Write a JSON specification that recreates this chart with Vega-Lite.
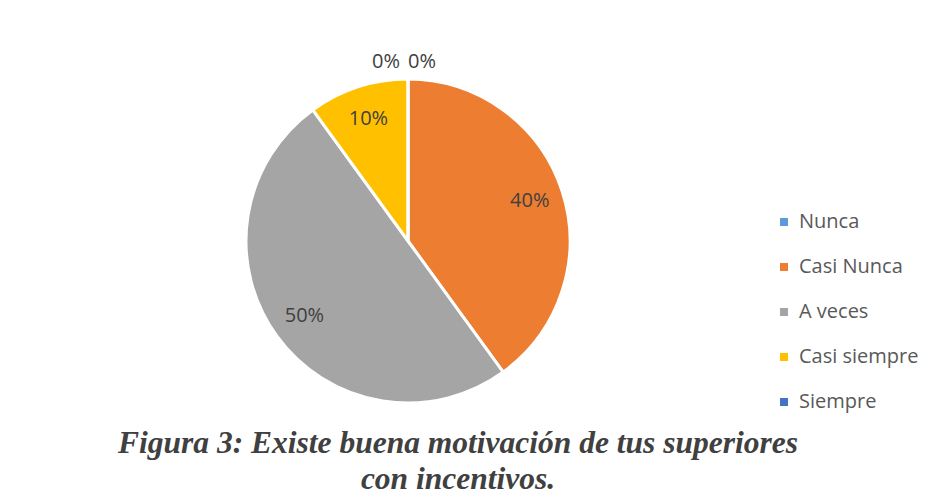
{
  "$schema": "https://vega.github.io/schema/vega-lite/v6.json",
  "autosize": {"type": "none"},
  "padding": {"left": 7, "top": 12, "right": 123, "bottom": 34},
  "width": 802,
  "height": 458,
  "background": "white",
  "config": {"view": {"stroke": null}},
  "title": {
    "text": ["Figura 3: Existe buena motivación de tus superiores", "con incentivos."],
    "orient": "bottom",
    "anchor": "middle",
    "frame": "group",
    "font": "Liberation Serif",
    "fontSize": 31.5,
    "fontWeight": "bold",
    "fontStyle": "italic",
    "color": "#404040",
    "lineHeight": 36,
    "offset": -42,
    "dx": 50
  },
  "data": {
    "values": [
      {"orden": 1, "categoria": "Nunca", "valor": 0},
      {"orden": 2, "categoria": "Casi Nunca", "valor": 0.4},
      {"orden": 3, "categoria": "A veces", "valor": 0.5},
      {"orden": 4, "categoria": "Casi siempre", "valor": 0.1},
      {"orden": 5, "categoria": "Siempre", "valor": 0}
    ]
  },
  "encoding": {
    "theta": {"field": "valor", "type": "quantitative", "stack": true},
    "order": {"field": "orden", "type": "quantitative", "sort": "ascending"}
  },
  "layer": [
    {
      "mark": {"type": "arc", "radius": 162, "stroke": "white", "strokeWidth": 3},
      "encoding": {
        "color": {
          "field": "categoria",
          "type": "nominal",
          "sort": ["Nunca", "Casi Nunca", "A veces", "Casi siempre", "Siempre"],
          "scale": {
            "domain": ["Nunca", "Casi Nunca", "A veces", "Casi siempre", "Siempre"],
            "range": ["#5B9BD5", "#ED7D31", "#A5A5A5", "#FFC000", "#4472C4"]
          },
          "legend": {
            "title": null,
            "orient": "none",
            "legendX": 767,
            "legendY": 200,
            "symbolType": "square",
            "symbolSize": 64,
            "symbolStrokeWidth": 0,
            "labelFont": "Open Sans",
            "labelFontSize": 20,
            "labelColor": "#595959",
            "rowPadding": 25,
            "labelOffset": 5
          }
        }
      }
    },
    {
      "mark": {"type": "text", "radius": 128, "font": "Open Sans", "fontSize": 20, "color": "#404040"},
      "encoding": {
        "text": {
          "condition": {"test": "datum.valor > 0", "field": "valor", "format": ".0%"},
          "value": ""
        }
      }
    },
    {
      "mark": {"type": "text", "radius": 179, "dx": 14, "font": "Open Sans", "fontSize": 20, "color": "#404040"},
      "encoding": {
        "text": {
          "condition": {"test": "datum.categoria === 'Nunca'", "field": "valor", "format": ".0%"},
          "value": ""
        }
      }
    },
    {
      "mark": {"type": "text", "radius": 179, "dx": -22, "font": "Open Sans", "fontSize": 20, "color": "#404040"},
      "encoding": {
        "text": {
          "condition": {"test": "datum.categoria === 'Siempre'", "field": "valor", "format": ".0%"},
          "value": ""
        }
      }
    }
  ]
}
